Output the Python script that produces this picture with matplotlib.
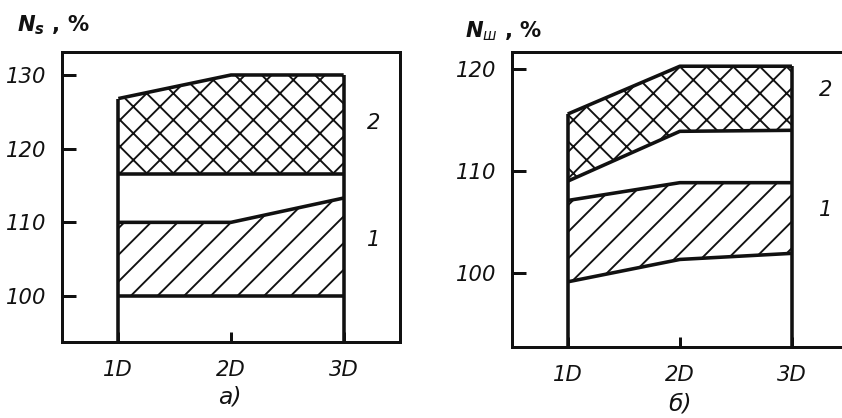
import matplotlib
matplotlib.use("Agg")
import matplotlib.pyplot as plt

# ---- data ----
positions = [1, 2, 3]
xticklabels = ["1D", "2D", "3D"]

# panel a) N_s, %
a_band1_low = [100.0, 100.0, 100.0]
a_band1_high = [110.0, 110.0, 113.3]
a_band2_low = [116.6, 116.6, 116.6]
a_band2_high = [126.8, 130.0, 130.0]
a_yticks = [100, 110, 120, 130]

# panel б) N_ш, %
b_band1_low = [99.1, 101.3, 101.9]
b_band1_high = [107.1, 108.85, 108.85]
b_band2_low = [109.0, 113.9, 114.0]
b_band2_high = [115.6, 120.3, 120.3]
b_yticks = [100, 110, 120]

DPI = 160
W, H = 842, 418
plt.rcParams['hatch.linewidth'] = 0.85
plt.rcParams['font.family'] = ['DejaVu Sans']
plt.rcParams['mathtext.fontset'] = 'dejavusans'

fig = plt.figure(figsize=(W / DPI, H / DPI), dpi=DPI)
fig.patch.set_facecolor('white')

LW = 1.6   # boundary line width (pt)
SW = 1.35  # spine width
INK = '#111111'
FS = 9.5


def draw_panel(ax, low1, high1, low2, high2, yticks, ylim):
    ax.set_xlim(0.5, 3.5)
    ax.set_ylim(*ylim)
    ax.fill_between(positions, low1, high1, facecolor='white', edgecolor=INK,
                    hatch='//', linewidth=0, zorder=1)
    ax.fill_between(positions, low2, high2, facecolor='white', edgecolor=INK,
                    hatch='xx', linewidth=0, zorder=1)
    for series in (low1, high1, low2, high2):
        ax.plot(positions, series, color=INK, lw=LW, solid_joinstyle='round',
                solid_capstyle='butt', zorder=3)
    ax.vlines([positions[0]], ylim[0], high2[0], color=INK, lw=LW, zorder=3)
    ax.vlines([positions[-1]], ylim[0], high2[-1], color=INK, lw=LW, zorder=3)
    ax.set_xticks(positions)
    ax.set_xticklabels(xticklabels)
    ax.set_yticks(yticks)
    ax.set_yticklabels([str(t) for t in yticks])
    ax.tick_params(axis='y', direction='in', length=6.5, width=SW, pad=7,
                   labelsize=FS, colors=INK)
    ax.tick_params(axis='x', direction='in', length=4.5, width=SW, pad=8,
                   labelsize=FS, colors=INK)
    for lab in ax.get_xticklabels() + ax.get_yticklabels():
        lab.set_fontstyle('italic')
        lab.set_fontweight('medium')
    for sp in ax.spines.values():
        sp.set_linewidth(SW)
        sp.set_color(INK)


ax1 = fig.add_axes([62 / W, 1 - 342 / H, (400 - 62) / W, (342 - 52) / H])
draw_panel(ax1, a_band1_low, a_band1_high, a_band2_low, a_band2_high,
           a_yticks, (93.76, 133.12))
ax1.text(3.27, 123.5, '2', fontsize=FS, style='italic', ha='center',
         va='center', color=INK)
ax1.text(3.27, 107.6, '1', fontsize=FS, style='italic', ha='center',
         va='center', color=INK)

ax2 = fig.add_axes([511.7 / W, 1 - 347 / H, (848 - 511.7) / W, (347 - 52) / H])
draw_panel(ax2, b_band1_low, b_band1_high, b_band2_low, b_band2_high,
           b_yticks, (92.69, 121.70))
ax2.text(3.3, 118.0, '2', fontsize=FS, style='italic', ha='center',
         va='center', color=INK)
ax2.text(3.3, 106.2, '1', fontsize=FS, style='italic', ha='center',
         va='center', color=INK)

fig.text(17 / W, 1 - 25 / H, r'$\mathbfit{N}_{\mathbfit{s}}$' + ' , %',
         fontsize=FS, fontweight='bold', ha='left', va='center', color=INK)
fig.text(465 / W, 1 - 31 / H, r'$\mathbfit{N}_{\mathit{ш}}$' + ' , %',
         fontsize=FS, fontweight='bold', ha='left', va='center', color=INK)

fig.text(230 / W, 1 - 397 / H, 'а)', fontsize=10.5, style='italic',
         ha='center', va='center', color=INK)
fig.text(680 / W, 1 - 404 / H, 'б)', fontsize=10.5, style='italic',
         ha='center', va='center', color=INK)

fig.savefig('out.png', dpi=DPI, facecolor='white')
